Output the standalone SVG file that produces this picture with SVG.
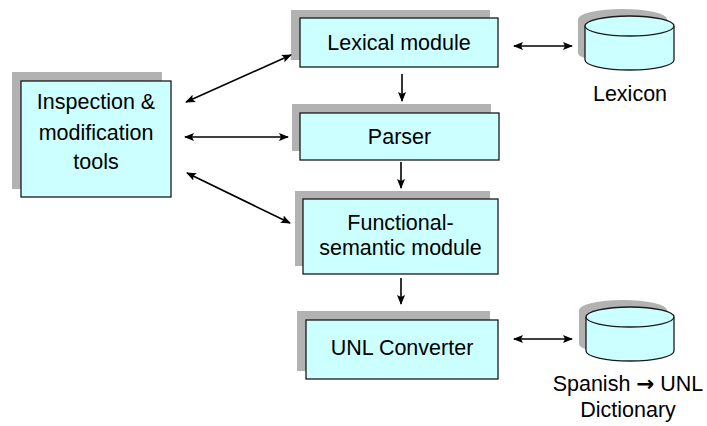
<svg xmlns="http://www.w3.org/2000/svg" width="707" height="426" viewBox="0 0 707 426">
<defs>
<style>
.sh{fill:#b2b2b2;stroke:none}
.bx{fill:#ccffff;stroke:#1a1a1a;stroke-width:1.3}
.t{font-family:"Liberation Sans",Arial,sans-serif;font-size:21.5px;fill:#000;text-anchor:middle}
.ar{font-family:"DejaVu Sans",sans-serif;font-weight:bold}
.c{stroke:#000;stroke-width:1.6;fill:none;marker-end:url(#ah)}
.cc{stroke:#000;stroke-width:1.6;fill:none;marker-end:url(#ah);marker-start:url(#as)}
</style>
<marker id="ah" viewBox="0 0 10 8" refX="9" refY="4" markerWidth="10" markerHeight="8" markerUnits="userSpaceOnUse" orient="auto"><path d="M0,0 L10,4 L0,8 L2,4 Z" fill="#000"/></marker>
<marker id="as" viewBox="0 0 10 8" refX="1" refY="4" markerWidth="10" markerHeight="8" markerUnits="userSpaceOnUse" orient="auto"><path d="M10,0 L0,4 L10,8 L8,4 Z" fill="#000"/></marker>
</defs>
<rect width="707" height="426" fill="#fff"/>
<g id="inspection">
<rect class="sh" x="12" y="72" width="150" height="117"/>
<rect class="bx" x="21" y="81" width="150" height="116"/>
<text class="t" x="96" y="109">Inspection &amp;</text>
<text class="t" x="96" y="140">modification</text>
<text class="t" x="96" y="169">tools</text>
</g>
<g id="lexical">
<rect class="sh" x="291" y="10" width="199" height="50"/>
<rect class="bx" x="300" y="18" width="198" height="49"/>
<text class="t" x="399" y="50">Lexical module</text>
</g>
<g id="parser">
<rect class="sh" x="292" y="104" width="199" height="47"/>
<rect class="bx" x="300" y="113" width="199" height="47"/>
<text class="t" x="399.5" y="144">Parser</text>
</g>
<g id="functional">
<rect class="sh" x="295" y="191" width="195" height="75"/>
<rect class="bx" x="303" y="199" width="195" height="75"/>
<text class="t" x="400.5" y="230">Functional-</text>
<text class="t" x="400.5" y="255">semantic module</text>
</g>
<g id="unl">
<rect class="sh" x="297" y="311" width="193" height="60"/>
<rect class="bx" x="306" y="320" width="192" height="59"/>
<text class="t" x="402" y="355">UNL Converter</text>
</g>
<g id="lexicon">
<path class="sh" d="M578,19 A44.5,10 0 0 1 667,19 L667,53 A44.5,10 0 0 1 578,53 Z"/>
<path class="bx" d="M585,26 L585,60 A44.5,10 0 0 0 674,60 L674,26"/>
<ellipse class="bx" cx="629.5" cy="26" rx="44.5" ry="10"/>
<text class="t" x="630" y="101">Lexicon</text>
</g>
<g id="dictionary">
<path class="sh" d="M579,310 A44,10 0 0 1 667,310 L667,344 A44,10 0 0 1 579,344 Z"/>
<path class="bx" d="M586,317 L586,351 A44,10 0 0 0 674,351 L674,317"/>
<ellipse class="bx" cx="630" cy="317" rx="44" ry="10"/>
<text class="t" x="628" y="391">Spanish <tspan class="ar">→</tspan> UNL</text>
<text class="t" x="628" y="417">Dictionary</text>
</g>
<g id="connectors">
<line class="c" x1="402" y1="74" x2="402" y2="101"/>
<line class="c" x1="401" y1="162" x2="401" y2="188"/>
<line class="c" x1="401" y1="278" x2="401" y2="304"/>
<line class="cc" x1="186" y1="102" x2="291" y2="55"/>
<line class="cc" x1="185" y1="137" x2="288" y2="137"/>
<line class="cc" x1="187" y1="173" x2="290" y2="223"/>
<line class="cc" x1="514" y1="46" x2="572" y2="46"/>
<line class="cc" x1="514" y1="339" x2="572" y2="339"/>
</g>
</svg>
